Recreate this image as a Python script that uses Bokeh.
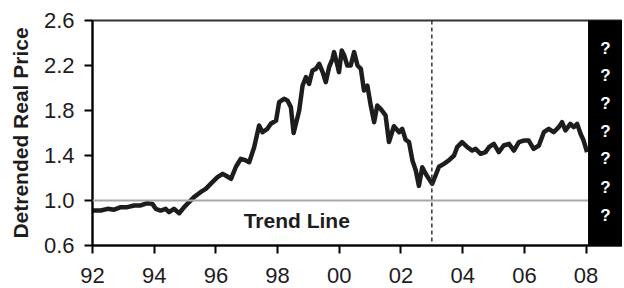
from bokeh.plotting import figure
from bokeh.models import Span, BoxAnnotation, Label, FixedTicker, Range1d
from bokeh.embed import file_html
from bokeh.resources import INLINE

# ---- data (decimal year, detrended real price) ----
years = [
    1992.00, 1992.27, 1992.49, 1992.70, 1992.92, 1993.13, 1993.35, 1993.56,
    1993.78, 1993.94, 1994.05, 1994.21, 1994.37, 1994.48, 1994.64, 1994.81,
    1994.97, 1995.13, 1995.29, 1995.50, 1995.67, 1995.83, 1996.05, 1996.22,
    1996.33, 1996.49, 1996.65, 1996.81, 1996.97, 1997.08, 1997.24, 1997.40,
    1997.51, 1997.67, 1997.78, 1997.95, 1998.05, 1998.21, 1998.32, 1998.43,
    1998.52, 1998.70, 1998.81, 1998.92, 1999.02, 1999.13, 1999.24, 1999.35,
    1999.46, 1999.56, 1999.67, 1999.78, 1999.83, 1999.94, 1999.99, 2000.08,
    2000.16, 2000.26, 2000.37, 2000.48, 2000.59, 2000.70, 2000.80, 2000.91,
    2001.02, 2001.13, 2001.23, 2001.34, 2001.50, 2001.61, 2001.77, 2001.94,
    2002.04, 2002.15, 2002.26, 2002.37, 2002.48, 2002.58, 2002.69, 2002.80,
    2002.91, 2003.01, 2003.12, 2003.23, 2003.39, 2003.55, 2003.72, 2003.82,
    2003.98, 2004.15, 2004.31, 2004.42, 2004.58, 2004.74, 2004.85, 2005.01,
    2005.17, 2005.33, 2005.50, 2005.66, 2005.82, 2005.98, 2006.14, 2006.30,
    2006.47, 2006.63, 2006.79, 2006.95, 2007.11, 2007.22, 2007.33, 2007.49,
    2007.60, 2007.71, 2007.82, 2007.92, 2008.03,
]
prices = [
    0.911, 0.911, 0.926, 0.918, 0.941, 0.941, 0.956, 0.956,
    0.976, 0.970, 0.926, 0.911, 0.926, 0.896, 0.926, 0.887,
    0.941, 0.985, 1.030, 1.074, 1.104, 1.148, 1.207, 1.237,
    1.220, 1.193, 1.300, 1.371, 1.356, 1.340, 1.474, 1.667,
    1.607, 1.637, 1.682, 1.711, 1.874, 1.904, 1.889, 1.830,
    1.600, 1.800, 2.022, 2.096, 2.037, 2.156, 2.170, 2.215,
    2.141, 2.052, 2.185, 2.259, 2.319, 2.200, 2.141, 2.333,
    2.289, 2.200, 2.200, 2.319, 2.200, 2.170, 1.978, 2.022,
    1.844, 1.696, 1.844, 1.815, 1.756, 1.520, 1.660, 1.607,
    1.637, 1.540, 1.519, 1.356, 1.267, 1.130, 1.296, 1.237,
    1.190, 1.148, 1.222, 1.300, 1.326, 1.356, 1.400, 1.474,
    1.519, 1.474, 1.444, 1.459, 1.415, 1.430, 1.474, 1.504,
    1.430, 1.489, 1.504, 1.444, 1.519, 1.533, 1.533, 1.459,
    1.489, 1.607, 1.637, 1.607, 1.652, 1.696, 1.622, 1.681,
    1.652, 1.681, 1.593, 1.533, 1.430,
]

x_ticks = [1992, 1994, 1996, 1998, 2000, 2002, 2004, 2006, 2008]
x_tick_labels = ["92", "94", "96", "98", "00", "02", "04", "06", "08"]
y_ticks = [0.6, 1.0, 1.4, 1.8, 2.2, 2.6]
y_tick_labels = ["0.6", "1.0", "1.4", "1.8", "2.2", "2.6"]

trend_level = 1.0
event_year = 2003
forecast_start = 2008.08
question_marks = ["?"] * 7
question_y = [2.351, 2.111, 1.862, 1.613, 1.373, 1.116, 0.867]

FONT = "Liberation Sans"
INK = "#1e1c1d"

p = figure(width=622, height=288, output_backend="svg", toolbar_location=None,
           x_range=Range1d(1992, 2009.18), y_range=Range1d(0.6, 2.6),
           min_border_left=92, min_border_right=0, min_border_top=20,
           min_border_bottom=43)
p.background_fill_color = "white"
p.border_fill_color = "white"
p.grid.visible = False
p.outline_line_color = "#333333"
p.outline_line_width = 2

for ax in (p.xaxis[0], p.yaxis[0]):
    ax.axis_line_color = "black"
    ax.axis_line_width = 2
    ax.major_tick_line_color = "black"
    ax.major_tick_line_width = 2
    ax.major_tick_in = 0
    ax.major_tick_out = 8
    ax.minor_tick_line_color = None
    ax.major_label_text_font = FONT
    ax.major_label_text_font_size = "22px"
    ax.major_label_text_color = INK

p.xaxis.ticker = FixedTicker(ticks=x_ticks)
p.xaxis.major_label_overrides = {t: l for t, l in zip(x_ticks, x_tick_labels)}
p.xaxis.major_label_standoff = 14
p.yaxis.ticker = FixedTicker(ticks=y_ticks)
p.yaxis.major_label_overrides = {t: l for t, l in zip(y_ticks, y_tick_labels)}
p.yaxis.major_label_standoff = 10
p.yaxis.axis_label = "Detrended Real Price"
p.yaxis.axis_label_text_font = FONT
p.yaxis.axis_label_text_font_style = "bold"
p.yaxis.axis_label_text_font_size = "21px"
p.yaxis.axis_label_text_color = INK
p.yaxis.axis_label_standoff = 9

p.add_layout(Span(location=trend_level, dimension="width",
                  line_color="#a8a8a8", line_width=2))
p.add_layout(Span(location=event_year, dimension="height",
                  line_color="#333333", line_width=1.5, line_dash="4 3"))

p.line(years, prices, line_color=INK, line_width=4.5, line_join="round")

p.add_layout(Label(x=1998.62, y=0.82, text="Trend Line", text_font=FONT,
                   text_font_style="bold", text_font_size="21px",
                   text_color=INK, text_align="center", text_baseline="middle"))

p.add_layout(BoxAnnotation(left=forecast_start, fill_color="black",
                           fill_alpha=1.0, line_color="black", line_alpha=1.0))
for qy, qm in zip(question_y, question_marks):
    p.add_layout(Label(x=2008.63, y=qy, text=qm, text_font=FONT,
                       text_font_style="bold", text_font_size="17px",
                       text_color="white", text_align="center",
                       text_baseline="middle"))

open("out.html", "w").write(file_html(p, INLINE))
